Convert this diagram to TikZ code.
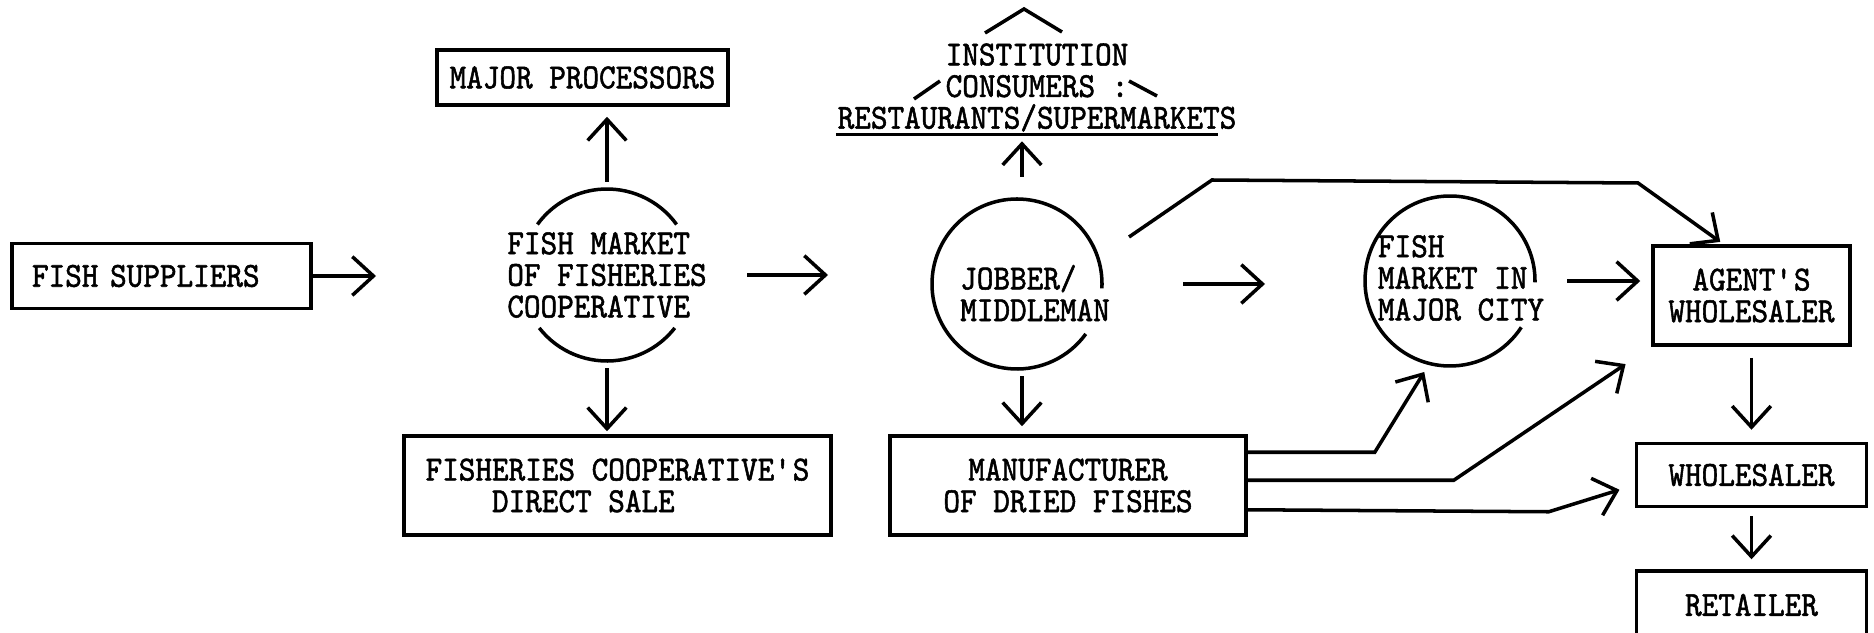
\documentclass[tikz,border=0pt]{standalone}
\usepackage{fontspec}
\setmonofont[FakeStretch=0.9, FakeBold=1.5]{lmmono10-regular.otf}
\usetikzlibrary{positioning, arrows.meta}

\begin{document}
\begin{tikzpicture}[
    every node/.style={font=\ttfamily\fontsize{10}{9}\selectfont, inner sep=0pt},
    box/.style={draw, minimum height=0.99cm, align=center},
    ring/.style={circle, minimum size=1.7cm, outer sep=0pt},
    arr/.style={-{Straight Barb[length=6pt, width=11pt]}},
    line width=1pt]

		\path[use as bounding box, clip] (0,0) rectangle (18.74,6.32);

		\node[box, text width=2.59cm, inner xsep=0.2cm, align=left, minimum height=0.65cm] (suppliers) at (1.615,3.56) {FISH SUPPLIERS};
		\node[ring, minimum size=1.72cm] (fmcoop) at (6.07,3.57) {};
		\node[align=left] (fmcooptxt) at (fmcoop) {FISH MARKET\\OF FISHERIES\\COOPERATIVE};
		\node[box, minimum width=2.91cm, minimum height=0.55cm] (processors) at (5.825,5.545) {MAJOR PROCESSORS};
		\node[box, minimum width=4.27cm, align=left] (directsale) at (6.175,1.465) {FISHERIES COOPERATIVE\textquotesingle S\\\hspace*{4\fontcharwd\font`\A}DIRECT SALE};
		\node[ring] (jobber) at (10.17,3.48) {};
		\node[align=left] (jobbertxt) at ([shift={(0.18,-0.09)}]jobber.center) {JOBBER/\\MIDDLEMAN};
		\node[align=center] (inst) at (10.37,5.445) {INSTITUTION\\CONSUMERS :\\RESTAURANTS/SUPERMARKETS};
		\node[box, minimum width=3.56cm] (maker) at (10.68,1.465) {MANUFACTURER\\OF DRIED FISHES};
		\node[ring] (fmcity) at (14.50,3.51) {};
		\node[align=left] (fmcitytxt) at ([shift={(0.11,0.03)}]fmcity.center) {FISH\\MARKET IN\\MAJOR CITY};
		\node[box, minimum width=1.97cm] (agent) at (17.515,3.365) {AGENT\textquotesingle S\\WHOLESALER};
		\node[box, minimum width=2.30cm, minimum height=0.63cm, below=0.95cm of agent] (wholesaler) {WHOLESALER};
		\node[box, minimum width=2.30cm, minimum height=0.68cm, below=0.61cm of wholesaler] (retailer) {RETAILER};

		% broken rings round the markets
		\draw (fmcoop.36) arc[start angle=36, end angle=144, radius=0.86cm];
		\draw (fmcoop.218) arc[start angle=218, end angle=322, radius=0.86cm];
		\draw (jobber.-3) arc[start angle=-3, end angle=324, radius=0.85cm];
		\draw (fmcity.-1) arc[start angle=-1, end angle=327, radius=0.85cm];

		% roof and underline round the consumers
		\draw (9.85,5.99) -- (10.24,6.23) -- (10.62,6.00);
		\draw (9.14,5.33) -- (9.40,5.51);
		\draw (11.29,5.51) -- (11.57,5.36);
		\draw ([yshift=-0.01cm]inst.south west) -- ([shift={(-0.2,-0.01)}]inst.south east);

		\draw[arr, shorten >=1.45cm] (suppliers.east) -- (suppliers.east -| fmcoop.west);
		\draw[arr, shorten <=0.07cm, shorten >=0.10cm] (fmcoop.north) -- (fmcoop.north |- processors.south);
		\draw[arr, shorten <=0.07cm, shorten >=0.03cm] (fmcoop.south) -- (fmcoop.south |- directsale.north);
		\draw[arr, shorten <=0.54cm, shorten >=1.04cm] (fmcoop.east) -- (fmcoop.east -| jobber.west);
		\draw[arr, shorten <=0.22cm, shorten >=0.08cm] ([xshift=0.05cm]jobber.north) -- ([xshift=0.05cm]jobber.north |- inst.south);
		\draw[arr, shorten <=0.07cm, shorten >=0.08cm] ([xshift=0.05cm]jobber.south) -- ([xshift=0.05cm]jobber.south |- maker.north);
		\draw[arr, shorten <=0.81cm, shorten >=1.00cm] (jobber.east) -- (jobber.east -| fmcity.west);
		\draw[arr, shorten <=0.32cm, shorten >=0.11cm] (fmcity.east) -- (fmcity.east -| agent.west);
		\draw[arr, shorten >=0.04cm] ([shift={(1.12,0.47)}]jobber.center) -- ++(0.83,0.57) -- ++(4.26,-0.03) -- ([xshift=-0.28cm]agent.north);
		\draw[arr, shorten >=0.10cm] ([yshift=-0.18cm]maker.north east) -- ++(1.27,0) -- (fmcity.256);
		\draw[arr, shorten >=0.31cm] ([yshift=-0.46cm]maker.north east) -- ++(2.06,0) -- (agent.south west);
		\draw[arr, shorten >=0.16cm] ([yshift=0.27cm]maker.south east) -- ++(3.01,-0.02) -- ([yshift=-0.10cm]wholesaler.west);
		\draw[arr, shorten <=0.11cm, shorten >=0.12cm] (agent.south) -- (wholesaler.north);
		\draw[arr, shorten <=0.08cm, shorten >=0.10cm] (wholesaler.south) -- (retailer.north);

\end{tikzpicture}
\end{document}
